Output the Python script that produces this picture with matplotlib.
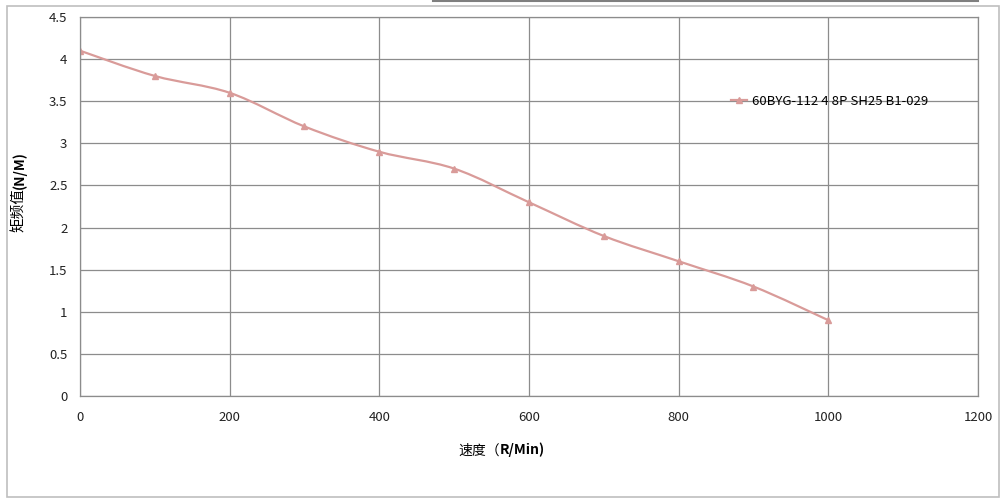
import matplotlib
matplotlib.use("Agg")
import matplotlib.pyplot as plt
from matplotlib.path import Path
from matplotlib.patches import PathPatch, Rectangle
from matplotlib.lines import Line2D
import numpy as np

plt.rcParams["font.family"] = ["Noto Sans CJK SC", "DejaVu Sans"]

speed = [0, 100, 200, 300, 400, 500, 600, 700, 800, 900, 1000]
torque = [4.1, 3.8, 3.6, 3.2, 2.9, 2.7, 2.3, 1.9, 1.6, 1.3, 0.9]
series_name = "60BYG-112 4 8P SH25 B1-029"
x_ticks = [0, 200, 400, 600, 800, 1000, 1200]
y_ticks = [0, 0.5, 1, 1.5, 2, 2.5, 3, 3.5, 4, 4.5]

line_color = "#D99B99"
grid_color = "#8C8C8C"


def smooth_path(xs, ys, tension=1 / 6):
    # Catmull-Rom style bezier through the points, like a spreadsheet "smoothed line"
    xs = np.asarray(xs, float)
    ys = np.asarray(ys, float)
    verts = [(xs[0], ys[0])]
    codes = [Path.MOVETO]
    n = len(xs)
    for i in range(n - 1):
        p0 = (xs[max(i - 1, 0)], ys[max(i - 1, 0)])
        p1 = (xs[i], ys[i])
        p2 = (xs[i + 1], ys[i + 1])
        p3 = (xs[min(i + 2, n - 1)], ys[min(i + 2, n - 1)])
        c1 = (p1[0] + (p2[0] - p0[0]) * tension, p1[1] + (p2[1] - p0[1]) * tension)
        c2 = (p2[0] - (p3[0] - p1[0]) * tension, p2[1] - (p3[1] - p1[1]) * tension)
        verts += [c1, c2, p2]
        codes += [Path.CURVE4] * 3
    return Path(verts, codes)


fig = plt.figure(figsize=(10.05, 5.03), dpi=100)
ax = fig.add_axes([0.0796, 0.2127, 0.8935, 0.7535])

# outer chart border and the stray line on top
fig.patches.append(Rectangle((7 / 1005, 6 / 503), 992 / 1005, 491 / 503, transform=fig.transFigure,
                             fill=False, edgecolor="#BFBFBF", linewidth=1.2))
fig.add_artist(Line2D([433 / 1005, 978 / 1005], [502.5 / 503, 502.5 / 503], transform=fig.transFigure,
                      color="#7F7F7F", linewidth=1.5))

ax.set_xlim(0, 1200)
ax.set_ylim(0, 4.5)
ax.set_xticks(x_ticks)
ax.set_yticks(y_ticks)
ax.set_xticklabels([str(t) for t in x_ticks])
ax.set_yticklabels([f"{t:g}" for t in y_ticks])
ax.grid(True, color=grid_color, linewidth=0.9)
ax.set_axisbelow(True)
for spine in ax.spines.values():
    spine.set_color(grid_color)
    spine.set_linewidth(0.9)
ax.tick_params(length=0, labelsize=9.5, colors="#222222")
ax.tick_params(axis="x", pad=11)
ax.tick_params(axis="y", pad=9)

ax.add_patch(PathPatch(smooth_path(speed, torque), facecolor="none", edgecolor=line_color, linewidth=1.6))
ax.plot(speed, torque, linestyle="none", marker="^", markersize=5, color=line_color)

legend_handle = Line2D([], [], color=line_color, marker="^", markersize=5, linewidth=1.6)
ax.legend([legend_handle], [series_name], loc="center left", bbox_to_anchor=(0.712, 0.778),
          frameon=False, fontsize=9.5, handlelength=1.2, handletextpad=0.4)

fig.text(0.497, 0.105, "速度（", fontsize=10, ha="right", va="center")
fig.text(0.497, 0.105, "R/Min)", fontsize=10, ha="left", va="center", fontweight="bold")
fig.text(0.019, 0.625, "矩频值", fontsize=10.5, rotation=90, ha="center", va="top")
fig.text(0.019, 0.625, "(N/M)", fontsize=10, rotation=90, ha="center", va="bottom", fontweight="bold")

fig.savefig("out.png", dpi=100)
